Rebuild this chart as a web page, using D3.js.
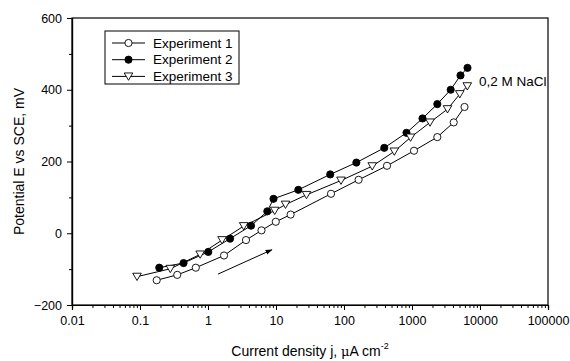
<!DOCTYPE html>
<html>
<head>
<meta charset="utf-8">
<script src="https://cdn.jsdelivr.net/npm/d3@7"></script>
<style>
  body { margin: 0; background: #fff; }
  svg { font-family: "Liberation Sans", Arial, sans-serif; }
</style>
</head>
<body>
<div id="chart"></div>
<script>
// Values (j in uA/cm2, E in mV)
const seriesNames = ['Experiment 1', 'Experiment 2', 'Experiment 3'];

const exp1J = [0.176, 0.353, 0.662, 1.72, 3.62, 6.12, 9.93, 16.4, 64.4, 164, 429, 1070, 2356, 4105, 5918];
const exp1E = [-131, -116, -96, -62, -19, 8, 32, 52, 110, 149, 188, 230, 268, 309, 352];

const exp2J = [0.192, 0.437, 1.01, 2.11, 4.29, 7.45, 9.19, 21.3, 62.7, 152, 391, 830, 1427, 2356, 3707, 5166, 6548];
const exp2E = [-96, -83, -52, -15, 21, 61, 96, 121, 164, 197, 238, 280, 320, 360, 400, 440, 461];

const exp3J = [0.0904, 0.279, 0.767, 1.61, 3.35, 9.57, 13.8, 28.1, 90.3, 260, 549, 951, 1840, 3327, 5047, 6505];
const exp3E = [-121, -99, -59, -19, 20, 63, 80, 107, 147, 187, 228, 267, 309, 346, 388, 410];

const xTicks = [0.01, 0.1, 1, 10, 100, 1000, 10000, 100000];
const xTickLabels = ['0.01', '0.1', '1', '10', '100', '1000', '10000', '100000'];
const yTicks = [-200, 0, 200, 400, 600];
const yMinorTicks = [-100, 100, 300, 500];

// arrow (sweep direction) and the electrolyte label
const arrowFrom = [1.4, -114];
const arrowTo = [8.7, -46];
const noteText = '0,2 M NaCl';
const notePos = [9700, 424];

const width = 570;
const height = 361;
const margin = { top: 18, right: 22, bottom: 56, left: 72 };

const svg = d3.select('#chart')
  .append('svg')
  .attr('width', width)
  .attr('height', height);

const x = d3.scaleLog()
  .domain([0.01, 100000])
  .range([margin.left, width - margin.right]);

const y = d3.scaleLinear()
  .domain([-200, 600])
  .range([height - margin.bottom, margin.top]);

// minor ticks on the log axis: 2..9 of each decade
const xMinor = [];
xTicks.slice(0, -1).forEach(d => {
  for (let k = 2; k <= 9; k++) xMinor.push(d * k);
});

// frame
svg.append('rect')
  .attr('x', x.range()[0])
  .attr('y', y.range()[1])
  .attr('width', x.range()[1] - x.range()[0])
  .attr('height', y.range()[0] - y.range()[1])
  .attr('fill', 'none')
  .attr('stroke', '#000')
  .attr('stroke-width', 1.2);

// x axis
svg.append('g')
  .attr('transform', `translate(0,${y(-200)})`)
  .call(d3.axisBottom(x)
    .tickValues(xTicks)
    .tickFormat((d, i) => xTickLabels[i])
    .tickSize(5)
    .tickPadding(6));

svg.append('g')
  .attr('transform', `translate(0,${y(-200)})`)
  .call(d3.axisBottom(x).tickValues(xMinor).tickFormat('').tickSize(3));

// y axis
svg.append('g')
  .attr('transform', `translate(${x(0.01)},0)`)
  .call(d3.axisLeft(y).tickValues(yTicks).tickSize(5).tickPadding(5));

svg.append('g')
  .attr('transform', `translate(${x(0.01)},0)`)
  .call(d3.axisLeft(y).tickValues(yMinorTicks).tickFormat('').tickSize(3));

svg.selectAll('.domain').attr('stroke', '#000').attr('stroke-width', 1.2);
svg.selectAll('.tick line').attr('stroke', '#000');
svg.selectAll('.tick text')
  .attr('font-family', '"Liberation Sans", Arial, sans-serif')
  .attr('font-size', '12.5px')
  .attr('fill', '#000');

// axis titles
const xt = svg.append('text')
  .attr('x', (x.range()[0] + x.range()[1]) / 2)
  .attr('y', 356)
  .attr('text-anchor', 'middle')
  .attr('font-size', '14px');
xt.append('tspan').text('Current density j, ');
xt.append('tspan').text('\u03bc').attr('font-family', '"DejaVu Serif", serif').attr('font-size', '13px');
xt.append('tspan').text('A cm');
xt.append('tspan').text('-2').attr('font-size', '9px').attr('dy', -7);

svg.append('text')
  .attr('transform', `translate(24,${(y(600) + y(-200)) / 2}) rotate(-90)`)
  .attr('text-anchor', 'middle')
  .attr('font-size', '14px')
  .text('Potential E vs SCE, mV');

// series
const series = [
  { name: seriesNames[0], j: exp1J, e: exp1E, marker: 'open' },
  { name: seriesNames[1], j: exp2J, e: exp2E, marker: 'filled' },
  { name: seriesNames[2], j: exp3J, e: exp3E, marker: 'tri' }
];

const line = d3.line().x(d => x(d[0])).y(d => y(d[1]));

function drawMarker(g, kind, cx, cy) {
  if (kind === 'tri') {
    const s = 4.3;
    g.append('path')
      .attr('d', `M${cx - s},${cy - s * 0.8}L${cx + s},${cy - s * 0.8}L${cx},${cy + s * 0.9}Z`)
      .attr('fill', '#fff')
      .attr('stroke', '#000')
      .attr('stroke-width', 0.9);
  } else {
    g.append('circle')
      .attr('cx', cx)
      .attr('cy', cy)
      .attr('r', 3.6)
      .attr('fill', kind === 'filled' ? '#000' : '#fff')
      .attr('stroke', '#000')
      .attr('stroke-width', 0.9);
  }
}

series.forEach(s => {
  const pts = s.j.map((d, i) => [d, s.e[i]]);
  svg.append('path')
    .datum(pts)
    .attr('d', line)
    .attr('fill', 'none')
    .attr('stroke', '#000')
    .attr('stroke-width', 1);
  const g = svg.append('g');
  pts.forEach(p => drawMarker(g, s.marker, x(p[0]), y(p[1])));
});

// arrow
svg.append('defs').append('marker')
  .attr('id', 'head')
  .attr('viewBox', '0 0 10 10')
  .attr('refX', 9).attr('refY', 5)
  .attr('markerWidth', 7).attr('markerHeight', 7)
  .attr('orient', 'auto')
  .append('path')
  .attr('d', 'M0,1.5L10,5L0,8.5Z')
  .attr('fill', '#000');

svg.append('line')
  .attr('x1', x(arrowFrom[0])).attr('y1', y(arrowFrom[1]))
  .attr('x2', x(arrowTo[0])).attr('y2', y(arrowTo[1]))
  .attr('stroke', '#000')
  .attr('stroke-width', 1)
  .attr('marker-end', 'url(#head)');

svg.append('text')
  .attr('x', x(notePos[0]))
  .attr('y', y(notePos[1]))
  .attr('dy', '0.35em')
  .attr('font-size', '13.5px')
  .text(noteText);

// legend
const legend = svg.append('g');
legend.append('rect')
  .attr('x', 105).attr('y', 31)
  .attr('width', 134).attr('height', 53)
  .attr('fill', '#fff')
  .attr('stroke', '#000')
  .attr('stroke-width', 1);

series.forEach((s, i) => {
  const ly = 43 + i * 16.7;
  legend.append('line')
    .attr('x1', 112).attr('x2', 145)
    .attr('y1', ly).attr('y2', ly)
    .attr('stroke', '#000');
  drawMarker(legend, s.marker, 128.5, ly);
  legend.append('text')
    .attr('x', 153)
    .attr('y', ly)
    .attr('dy', '0.35em')
    .attr('font-size', '13.5px')
    .text(s.name);
});
</script>
</body>
</html>
